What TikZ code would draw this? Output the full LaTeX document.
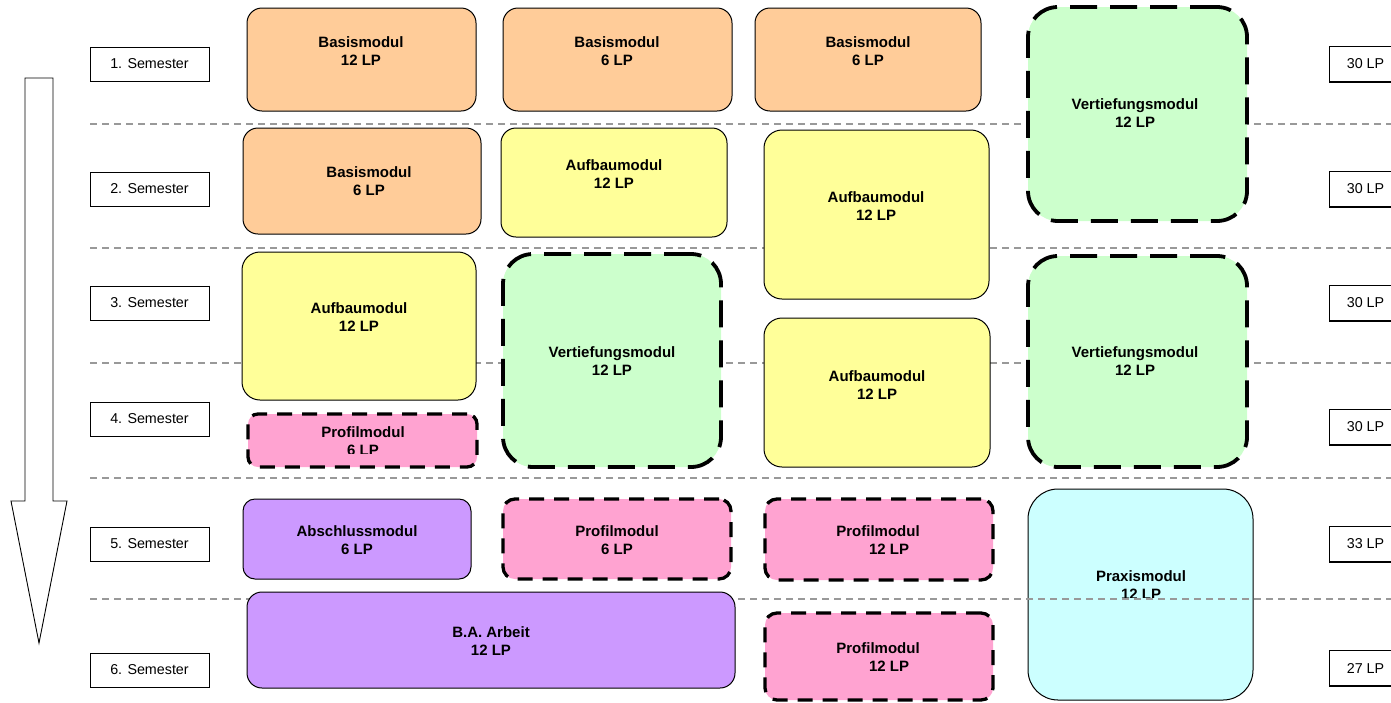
\documentclass[tikz,border=0pt]{standalone}
\usepackage{fontspec}
\setmainfont{Liberation Sans}
\definecolor{cBasis}{HTML}{FFCC99}
\definecolor{cAufbau}{HTML}{FFFF99}
\definecolor{cVert}{HTML}{CCFFCC}
\definecolor{cProfil}{HTML}{FFA3D1}
\definecolor{cAbsch}{HTML}{CC99FF}
\definecolor{cPraxis}{HTML}{CCFFFF}
\definecolor{cGrid}{HTML}{999999}
\newcommand\modbox[7]{%
  \node[#2, rounded corners=#7, minimum width={#5-#3}, minimum height={#6-#4}] (#1) at ({(#3+#5)/2},{(#4+#6)/2}) {};}
\begin{document}
\begin{tikzpicture}[x=1pt,y=-1pt,
  box/.style={draw=black, line width=1pt, inner sep=0pt, outer sep=0pt},
  dbox/.style={draw=black, line width=3.3pt, dash pattern=on 15pt off 10pt, inner sep=0pt, outer sep=0pt},
  vbox/.style={draw=black, line width=3.8pt, dash pattern=on 27pt off 13pt, inner sep=0pt, outer sep=0pt},
  lbl/.style={font=\fontsize{15}{18.5}\selectfont\bfseries, align=center, inner sep=0pt},
  sem/.style={draw=black, line width=0.9pt, minimum width=119pt, minimum height=34pt, font=\fontsize{14.3}{17}\selectfont, inner sep=0pt},
  lp/.style={draw=black, line width=0.9pt, minimum width=73pt, minimum height=35pt, font=\fontsize{14.3}{17}\selectfont, inner sep=0pt},
  gridline/.style={draw=cGrid, line width=1.8pt, dash pattern=on 7pt off 5pt},
  shadowline/.style={draw=black, line width=1.6pt}]
\useasboundingbox (0,0) rectangle (1391,702);

% Praxismodul (under the grid line)
\modbox{praxis}{box, fill=cPraxis}{1028}{489}{1253}{700}{30pt}

% grid lines
\foreach \yy in {124,248,363,478,599} {\draw[gridline] (90,\yy) -- (1391,\yy);}

% column 1
\modbox{b1}{box, fill=cBasis}{247}{8}{476}{111}{15pt}
\modbox{b2}{box, fill=cBasis}{243}{128}{481}{234}{15pt}
\modbox{a1}{box, fill=cAufbau}{242}{252}{476}{400}{18pt}
\modbox{p1}{dbox, fill=cProfil}{248}{414}{477}{467}{10pt}
\modbox{ab}{box, fill=cAbsch}{243}{499}{471}{579}{12pt}
\modbox{ba}{box, fill=cAbsch}{247}{592}{735}{688}{15pt}

% column 2
\modbox{b3}{box, fill=cBasis}{503}{8}{732}{111}{15pt}
\modbox{a2}{box, fill=cAufbau}{501}{128}{727}{237}{15pt}
\modbox{v1}{vbox, fill=cVert}{503}{254}{721}{467}{30pt}
\modbox{p2}{dbox, fill=cProfil}{503}{499}{731}{579}{12pt}

% column 3
\modbox{b4}{box, fill=cBasis}{755}{8}{981}{111}{15pt}
\modbox{a3}{box, fill=cAufbau}{764}{130}{989}{299}{18pt}
\modbox{a4}{box, fill=cAufbau}{764}{318}{990}{467}{18pt}
\modbox{p3}{dbox, fill=cProfil}{765}{499}{993}{580}{12pt}
\modbox{p4}{dbox, fill=cProfil}{765}{613}{993}{700}{12pt}

% column 4
\modbox{v2}{vbox, fill=cVert}{1028}{7}{1247}{221}{30pt}
\modbox{v3}{vbox, fill=cVert}{1028}{256}{1247}{467}{30pt}

% labels
\node[lbl] (tb1) at (361,51) {Basismodul\\12 LP};
\node[lbl] (tb2) at (369,181) {Basismodul\\6 LP};
\node[lbl] (ta1) at (359,317) {Aufbaumodul\\12 LP};
\begin{scope}
  \clip (250,420) rectangle (475,453.5);
  \node[lbl] (tp1) at (363,441) {Profilmodul\\6 LP};
\end{scope}
\node[lbl] (tab) at (357,540) {Abschlussmodul\\6 LP};
\node[lbl] (tba) at (491,641) {B.A. Arbeit\\12 LP};

\node[lbl] (tb3) at (617,51) {Basismodul\\6 LP};
\node[lbl] (ta2) at (614,174) {Aufbaumodul\\12 LP};
\node[lbl] (tv1) at (612,361) {Vertiefungsmodul\\12 LP};
\node[lbl] (tp2) at (617,540) {Profilmodul\\6 LP};

\node[lbl] (tb4) at (868,51) {Basismodul\\6 LP};
\node[lbl] (ta3) at (876,206) {Aufbaumodul\\12 LP};
\node[lbl] (ta4) at (877,385) {Aufbaumodul\\12 LP};
\node[lbl] (tp3) at (878,540) {Profilmodul\\\hspace*{22pt}12 LP};
\node[lbl] (tp4) at (878,657) {Profilmodul\\\hspace*{22pt}12 LP};

\node[lbl] (tv2) at (1135,113) {Vertiefungsmodul\\12 LP};
\node[lbl] (tv3) at (1135,361) {Vertiefungsmodul\\12 LP};
\begin{scope}
  \clip (1030,560) rectangle (1250,597.5);
  \node[lbl] (tpr) at (1141,585) {Praxismodul\\12 LP};
\end{scope}

% semester boxes
\foreach \n/\yy/\t in {s1/64/1, s2/189/2, s3/303/3, s4/419/4, s5/544/5, s6/670/6} {
  \node[sem, fill=white] (\n) at (149.5,\yy) {\t. Semester};
  \draw[shadowline] (\n.north east) -- (\n.south east) -- (\n.south west);
}
% LP boxes
\foreach \n/\yy/\t in {l1/64/30, l2/189/30, l3/303/30, l4/427/30, l5/544/33, l6/668/27} {
  \node[lp, fill=white] (\n) at (1365.5,\yy) {\t\ LP};
  \draw[shadowline] (\n.south east) -- (\n.south west);
}

% arrow
\draw[line width=0.9pt, fill=white] (25,78) -- (53,78) -- (53,501) -- (67,501) -- (39,643) -- (11,501) -- (25,501) -- cycle;
\end{tikzpicture}
\end{document}
